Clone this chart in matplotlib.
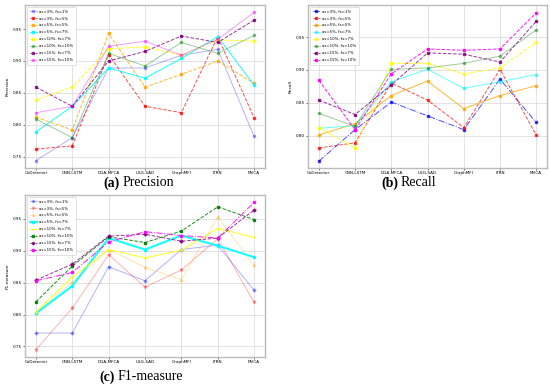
import matplotlib
matplotlib.use("Agg")
import matplotlib.pyplot as plt

methods = ["CoDetector", "CNN-LSTM", "DGA-MFCA", "USG-SAD", "GraphMFI", "ITRN", "MVCA"]
labels = ["as=3%, fs=1%", "as=3%, fs=5%", "as=5%, fs=5%", "as=5%, fs=7%",
          "as=10%, fs=7%", "as=10%, fs=10%", "as=15%, fs=7%", "as=15%, fs=10%"]
colors = ["blue", "red", "orange", "cyan", "yellow", "green", "purple", "magenta"]

precision = [
    [0.744, 0.780, 0.889, 0.889, 0.909, 0.918, 0.782],
    [0.762, 0.767, 0.910, 0.829, 0.819, 0.938, 0.811],
    [0.812, 0.792, 0.943, 0.859, 0.879, 0.900, 0.865],
    [0.789, 0.829, 0.889, 0.873, 0.904, 0.938, 0.862],
    [0.839, 0.859, 0.919, 0.922, 0.909, 0.933, 0.931],
    [0.809, 0.780, 0.912, 0.892, 0.929, 0.912, 0.940],
    [0.859, 0.829, 0.900, 0.915, 0.939, 0.929, 0.964],
    [0.819, 0.829, 0.923, 0.931, 0.909, 0.934, 0.976],
]
recall = [
    [0.761, 0.809, 0.851, 0.830, 0.809, 0.886, 0.820],
    [0.781, 0.789, 0.880, 0.854, 0.812, 0.901, 0.801],
    [0.801, 0.818, 0.861, 0.883, 0.841, 0.861, 0.876],
    [0.811, 0.815, 0.882, 0.901, 0.872, 0.882, 0.893],
    [0.812, 0.781, 0.910, 0.910, 0.894, 0.903, 0.942],
    [0.834, 0.814, 0.901, 0.903, 0.910, 0.921, 0.961],
    [0.854, 0.832, 0.877, 0.926, 0.924, 0.912, 0.974],
    [0.884, 0.809, 0.894, 0.932, 0.930, 0.932, 0.987],
]
f1 = [
    [0.771, 0.771, 0.875, 0.853, 0.902, 0.909, 0.838],
    [0.745, 0.810, 0.894, 0.843, 0.870, 0.919, 0.819],
    [0.803, 0.851, 0.902, 0.874, 0.855, 0.953, 0.877],
    [0.802, 0.845, 0.920, 0.902, 0.924, 0.908, 0.890],
    [0.804, 0.859, 0.902, 0.889, 0.901, 0.935, 0.921],
    [0.820, 0.876, 0.922, 0.913, 0.931, 0.969, 0.949],
    [0.854, 0.879, 0.923, 0.926, 0.915, 0.920, 0.964],
    [0.853, 0.866, 0.914, 0.930, 0.924, 0.920, 0.976],
]

# (linestyle, alpha, linewidth, marker) per series
style_a = [("-", 0.3, 0.7, "s"), ("--", 0.7, 0.7, "s"), ("--", 0.8, 0.7, "s"), ("-", 0.9, 0.7, "s"),
           ("--", 0.9, 0.7, "s"), ("-", 0.4, 0.7, "s"), ("--", 0.8, 0.7, "s"), ("-", 0.4, 0.7, "s")]
style_b = [("-.", 0.7, 0.7, "s"), ("--", 0.7, 0.7, "s"), ("-", 0.8, 0.7, "s"), ("-", 0.6, 0.7, "s"),
           ("--", 0.9, 0.7, "s"), ("-", 0.4, 0.7, "s"), ("--", 0.8, 0.7, "s"), ("--", 0.9, 0.7, "s")]
style_c = [("-", 0.3, 0.7, "P"), ("-", 0.3, 0.7, "v"), ("-", 0.3, 0.7, "^"), ("-", 0.9, 1.5, "s"),
           ("-", 0.9, 0.7, "4"), ("--", 0.9, 0.7, "s"), ("--", 0.8, 0.7, "P"), ("-.", 0.9, 0.7, "s")]

fig = plt.figure(figsize=(5.5, 3.88), dpi=100)
W, H = 550, 388


def panel(rect, data, styles, ylabel, tag, name, cap):
    l, t, r, b = rect
    ax = fig.add_axes([l / W, 1 - b / H, (r - l) / W, (b - t) / H])
    for vals, c, lab, (ls, a, lw, m) in zip(data, colors, labels, styles):
        ax.plot(methods, vals, color=c, linestyle=ls, alpha=a, lw=lw,
                marker=m, markersize=2, label=lab)
    ax.grid(True, color="#dddddd", lw=0.6)
    ax.set_axisbelow(True)
    ax.tick_params(labelsize=3.0, length=1.2, width=0.4, pad=1)
    ax.set_ylabel(ylabel, fontsize=3.2, labelpad=2)
    for s in ax.spines.values():
        s.set_color("#bbbbbb")
        s.set_linewidth(1.0)
    leg = ax.legend(loc="upper left", fontsize=2.8, handlelength=1.8, borderpad=0.7,
                    labelspacing=0.75, markerscale=0.8, framealpha=1, handletextpad=0.6)
    leg.get_frame().set_linewidth(0.4)
    cx, cy = cap
    fig.text(cx / W, 1 - cy / H, tag, ha="right", va="center", fontsize=10,
             family="Liberation Serif", weight="bold")
    fig.text((cx + 3) / W, 1 - cy / H, name, ha="left", va="center", fontsize=10,
             family="Liberation Serif")
    return ax


ax1 = panel((25, 5, 265, 168), precision, style_a, "Precision", "(a)", "Precision", (120, 183))
ax2 = panel((308, 5, 547, 168), recall, style_b, "Recall", "(b)", "Recall", (398, 183))
ax2.set_ylim(0.7505, 0.999)
ax3 = panel((25, 195, 265, 357), f1, style_c, "F1-measure", "(c)", "F1-measure", (115, 377))

fig.savefig("out.png", dpi=100)
